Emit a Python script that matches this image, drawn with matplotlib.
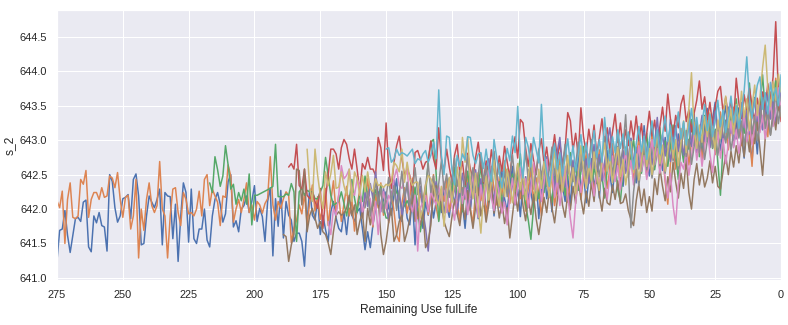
import numpy as np
import matplotlib
matplotlib.use("Agg")
import matplotlib.pyplot as plt
import seaborn as sns

# sensor s_2 readings per engine, ordered from first cycle down to failure (RUL 0)
unit_a = [
    642.38, 641.25, 641.69, 641.71, 641.98, 641.62, 641.37, 641.62, 641.86, 641.88,
    641.82, 642.10, 642.13, 641.45, 641.38, 641.90, 641.80, 641.95, 641.76, 641.74,
    641.39, 642.50, 642.40, 642.02, 641.81, 641.90, 642.15, 642.17, 642.21, 641.86,
    642.43, 642.51, 642.19, 641.48, 641.50, 641.90, 642.19, 642.10, 642.02, 642.14,
    642.29, 641.48, 642.24, 642.19, 642.18, 641.57, 642.07, 641.24, 641.90, 642.38,
    642.24, 641.52, 642.29, 641.57, 641.50, 641.71, 641.71, 642.00, 641.55, 641.45,
    641.90, 642.14, 642.24, 642.07, 641.81, 641.93, 642.40, 642.50, 641.74, 641.83,
    641.67, 642.00, 642.05, 642.19, 641.95, 642.11, 642.34, 641.82, 642.01, 641.89,
    641.53, 642.11, 642.31, 641.32, 642.15, 641.75, 642.27, 641.58, 642.11, 641.91,
    641.84, 641.53, 641.65, 641.65, 641.53, 641.17, 641.82, 642.30, 641.91, 641.84,
    642.15, 641.63, 641.91, 641.70, 641.53, 641.96, 642.11, 641.87, 641.72, 641.67,
    641.96, 641.63, 642.01, 641.91, 641.82, 641.96, 642.01, 641.72, 641.41, 641.67,
    641.44, 641.77, 642.01, 642.25, 642.01, 642.13, 642.25, 642.01, 641.91, 642.20,
    642.44, 641.87, 641.82, 642.20, 641.87, 641.77, 642.15, 641.48, 642.10, 642.01,
    641.72, 642.10, 641.91, 642.20, 641.87, 642.10, 642.20, 641.95, 642.32, 642.05,
    641.88, 642.27, 642.12, 641.93, 642.35, 642.08, 641.72, 642.18, 641.98, 642.40,
    642.11, 641.86, 642.22, 642.47, 641.95, 642.14, 642.38, 641.90, 642.26, 642.03,
    642.55, 642.15, 641.97, 642.34, 642.62, 642.08, 642.29, 641.89, 642.42, 642.18,
    642.57, 642.24, 642.02, 642.45, 641.86, 642.31, 642.67, 642.15, 642.40, 641.96,
    642.58, 642.22, 642.70, 642.34, 642.11, 642.48, 642.05, 642.63, 642.37, 642.81,
    642.26, 642.52, 642.09, 642.44, 642.73, 642.30, 642.58, 642.16, 642.69, 642.41,
    642.85, 642.50, 642.24, 642.62, 642.91, 642.47, 642.33, 642.76, 642.55, 643.02,
    642.64, 642.38, 642.86, 642.59, 643.21, 642.72, 642.48, 642.95, 642.67, 643.12,
    642.81, 642.56, 643.04, 642.74, 643.30, 642.88, 642.61, 643.09, 642.83, 643.25,
    642.70, 643.01, 642.92, 643.38, 642.86, 643.15, 642.78, 643.22, 643.46, 642.97,
    643.31, 643.55, 643.08, 642.85, 643.27, 643.50, 643.02, 643.36, 642.91, 643.19,
    643.47, 643.10, 642.74, 643.33, 643.06, 642.69, 643.24, 642.80, 643.38, 643.15,
    643.52, 643.21, 643.66, 643.40, 643.74, 643.48, 643.62,
]
unit_b = [
    642.12, 642.02, 642.26, 641.50, 642.14, 642.38, 641.88, 641.86, 641.90, 642.43,
    642.36, 642.56, 641.88, 642.14, 642.24, 642.24, 642.14, 642.31, 642.17, 642.19,
    642.48, 642.45, 642.31, 642.53, 642.14, 641.88, 642.17, 642.20, 641.71, 641.90,
    642.43, 641.29, 642.00, 641.69, 642.14, 642.38, 642.05, 641.95, 642.05, 642.69,
    642.00, 641.90, 641.29, 641.90, 642.29, 642.31, 641.95, 641.76, 642.24, 642.14,
    641.93, 641.95, 641.90, 642.00, 642.26, 641.90, 642.43, 642.50, 642.05, 642.29,
    642.19, 642.10, 641.76, 642.19, 642.17, 642.64, 642.48, 641.81, 642.00, 642.14,
    641.95, 642.14, 642.38, 641.95, 642.06, 641.84, 642.11, 642.06, 641.94, 642.08,
    642.15, 642.76, 642.06, 641.84, 642.11, 642.01, 642.15, 642.25, 642.20, 641.51,
    641.72, 641.84, 642.06, 641.93, 642.22, 641.78, 642.10, 642.35, 641.97, 642.18,
    641.85, 642.02, 642.30, 641.76, 642.12, 642.41, 641.95, 642.20, 641.82, 642.07,
    642.33, 641.90, 642.14, 641.68, 642.05, 642.27, 641.87, 642.16, 642.44, 641.99,
    641.74, 642.21, 642.02, 642.38, 641.91, 642.12, 641.80, 642.25, 641.97, 641.62,
    641.53, 642.08, 642.31, 641.94, 642.17, 642.45, 642.00, 641.86, 642.23, 642.09,
    642.36, 641.92, 642.15, 642.50, 642.03, 641.84, 642.27, 642.11, 642.42, 641.96,
    642.20, 642.58, 642.07, 641.83, 642.31, 642.14, 642.46, 642.01, 641.79, 642.25,
    642.53, 642.12, 642.35, 641.90, 642.21, 642.62, 642.28, 642.06, 642.47, 642.19,
    642.70, 642.33, 642.08, 642.41, 642.24, 642.66, 642.15, 642.39, 641.97, 642.30,
    642.57, 642.12, 642.45, 642.23, 641.90, 642.36, 642.60, 642.18, 642.49, 642.05,
    642.31, 642.74, 642.26, 642.52, 642.10, 642.42, 642.69, 642.28, 642.55, 642.14,
    642.47, 642.81, 642.38, 642.60, 642.22, 642.53, 642.86, 642.41, 642.67, 642.30,
    642.59, 642.95, 642.48, 642.72, 642.34, 642.64, 642.90, 642.51, 642.79, 642.42,
    642.70, 643.04, 642.58, 642.85, 642.47, 642.76, 643.08, 642.62, 642.93, 642.55,
    642.81, 642.40, 642.07, 642.66, 642.96, 642.58, 642.88, 643.17, 642.73, 643.02,
    642.64, 642.97, 643.26, 642.82, 643.10, 642.71, 643.04, 643.33, 642.90, 643.18,
    642.79, 643.12, 643.41, 642.95, 643.24, 642.86, 643.19, 643.48, 643.03, 643.30,
    642.92, 643.27, 643.55, 643.08, 642.62, 643.35, 643.14, 643.60, 643.22, 643.44,
    643.05, 643.70, 643.38, 643.90, 643.52, 643.47,
]
unit_c = [
    642.38, 642.24, 642.76, 642.57, 642.33, 642.48, 642.92, 642.64, 642.29, 642.36,
    642.07, 642.24, 642.12, 642.29, 642.07, 642.51, 641.77, 642.20, 642.20, 642.22,
    642.24, 642.26, 642.28, 642.30, 642.33, 642.94, 642.18, 642.18, 642.18, 642.22,
    642.20, 642.37, 642.25, 641.53, 642.25, 642.30, 642.20, 642.27, 642.25, 642.25,
    642.15, 642.15, 642.25, 642.34, 642.75, 642.49, 642.20, 642.06, 642.08, 642.11,
    642.25, 642.08, 641.90, 642.12, 642.43, 642.16, 641.95, 642.22, 642.11, 642.48,
    642.19, 641.97, 642.05, 642.28, 642.15, 642.33, 642.02, 641.87, 641.87, 642.10,
    642.36, 642.24, 642.18, 641.98, 642.05, 642.12, 642.03, 642.07, 642.32, 641.98,
    641.67, 641.93, 642.21, 642.70, 642.97, 643.01, 642.52, 641.82, 642.18, 642.35,
    642.09, 642.44, 642.26, 642.61, 642.13, 642.39, 641.96, 642.30, 642.55, 642.17,
    642.42, 642.03, 642.28, 642.64, 642.21, 642.47, 642.10, 642.35, 642.72, 642.19,
    642.40, 642.08, 642.33, 642.58, 642.26, 642.51, 642.12, 642.44, 642.80, 642.29,
    642.06, 641.84, 641.56, 642.02, 642.37, 642.15, 642.53, 642.24, 642.61, 642.32,
    642.09, 642.45, 642.73, 642.36, 642.58, 642.20, 642.49, 642.82, 642.40, 642.65,
    642.27, 642.54, 642.91, 642.44, 642.70, 642.31, 642.62, 642.37, 642.76, 642.49,
    642.16, 642.58, 642.85, 642.43, 642.69, 642.28, 642.11, 642.55, 642.81, 642.46,
    642.74, 643.02, 642.60, 642.87, 642.52, 642.78, 643.10, 642.66, 642.93, 642.57,
    642.85, 643.18, 642.71, 642.99, 642.62, 642.90, 643.22, 642.80, 642.43, 642.96,
    642.68, 643.14, 642.87, 643.30, 642.92, 643.20, 642.76, 643.05, 643.36, 642.98,
    643.25, 642.88, 643.16, 642.67, 642.20, 642.94, 643.29, 643.03, 643.41, 643.12,
    643.60, 643.24, 643.50, 643.10, 643.38, 643.83, 643.35, 643.62, 643.20, 643.49,
    643.95, 643.42, 643.70, 643.31, 643.58, 643.86, 643.45, 643.66,
]
unit_d = [
    642.61, 642.66, 642.58, 642.94, 642.34, 642.30, 642.58, 642.20, 642.15, 642.25,
    642.11, 642.01, 642.30, 641.72, 642.15, 642.49, 642.87, 642.87, 642.80, 642.58,
    642.89, 643.01, 642.94, 642.73, 642.58, 642.87, 642.58, 642.25, 642.66, 642.58,
    642.75, 642.58, 642.58, 642.49, 643.04, 642.89, 642.56, 643.25, 642.58, 642.30,
    642.68, 642.92, 643.06, 642.73, 642.49, 642.58, 642.49, 642.20, 642.82, 642.85,
    642.73, 642.58, 642.68, 642.70, 642.99, 642.73, 642.58, 643.18, 642.72, 642.55,
    642.87, 642.61, 642.40, 642.78, 642.94, 642.52, 642.69, 642.35, 642.81, 642.58,
    642.44, 642.75, 642.97, 642.63, 642.38, 642.70, 642.51, 642.86, 642.60, 642.42,
    642.77, 642.55, 642.91, 642.68, 642.47, 642.83, 643.05, 642.74, 643.30, 643.25,
    642.88, 642.62, 642.95, 642.71, 642.50, 642.84, 643.02, 642.66, 642.90, 642.57,
    642.79, 643.08, 642.73, 642.96, 642.64, 642.88, 643.40, 643.28, 642.85, 643.10,
    642.77, 643.47, 643.05, 642.82, 643.16, 642.90, 643.22, 642.79, 643.04, 643.31,
    642.93, 643.18, 642.86, 643.12, 643.38, 642.97, 643.25, 642.88, 643.15, 642.92,
    643.28, 643.01, 643.35, 642.99, 643.24, 642.83, 643.10, 643.42, 643.06, 643.29,
    642.94, 643.20, 643.48, 643.13, 643.67, 643.31, 643.05, 643.36, 643.18, 643.52,
    643.65, 643.27, 643.44, 643.12, 643.39, 643.58, 643.86, 643.45, 643.63, 643.30,
    643.55, 643.22, 643.48, 643.71, 643.78, 643.40, 643.62, 643.35, 643.58, 643.26,
    643.90, 643.54, 643.31, 643.66, 643.42, 643.75, 643.50, 643.28, 643.61, 643.38,
    643.70, 643.45, 643.82, 643.56, 643.92, 644.72, 643.68, 643.27,
]
unit_e = [
    642.10, 641.88, 642.25, 642.04, 642.37, 642.15, 642.54, 642.21, 641.96, 642.30,
    642.08, 641.83, 642.19, 642.42, 642.05, 642.27, 641.92, 642.14, 642.36, 641.99,
    642.23, 641.86, 642.10, 642.33, 641.97, 641.72, 641.39, 641.90, 642.18, 642.40,
    642.07, 642.29, 641.94, 642.21, 642.45, 642.11, 642.34, 641.98, 642.25, 642.52,
    642.16, 642.38, 642.03, 642.31, 642.57, 642.20, 642.44, 642.09, 642.62, 642.73,
    642.35, 642.12, 642.48, 642.24, 641.96, 642.30, 642.55, 642.19, 642.41, 642.06,
    642.33, 642.59, 642.22, 642.47, 642.13, 642.38, 642.65, 642.27, 642.51, 642.18,
    642.44, 642.76, 642.36, 642.60, 642.25, 642.83, 643.04, 642.58, 642.32, 642.67,
    642.43, 642.71, 642.29, 642.56, 642.88, 642.49, 642.73, 642.37, 642.62, 642.94,
    642.53, 642.79, 642.41, 642.68, 642.97, 643.18, 642.75, 642.46, 642.81, 642.57,
    642.86, 642.52, 642.74, 643.03, 642.65, 642.90, 642.58, 642.83, 643.11, 642.72,
    642.97, 642.64, 642.92, 643.33, 642.86, 643.08, 642.77, 643.02, 642.69, 642.95,
    643.21, 642.84, 643.10, 642.78, 643.04, 643.30, 642.91, 643.17, 642.82, 643.08,
    643.36, 642.98, 643.23, 642.89, 643.14, 643.42, 643.05, 643.29, 642.96, 643.21,
    643.48, 643.10, 643.35, 643.02, 643.27, 643.55, 643.18, 643.43, 643.09, 643.34,
    643.61, 643.24, 643.50, 643.16, 643.40, 643.68, 643.31, 643.57, 643.25, 643.49,
    643.72,
]
unit_f = [
    641.63, 641.60, 641.24, 641.48, 641.63, 642.58, 642.56, 642.06, 642.58, 641.67,
    641.91, 642.01, 641.87, 641.72, 641.82, 641.67, 641.63, 641.51, 641.34, 641.67,
    641.91, 641.96, 641.91, 641.94, 642.01, 642.20, 641.91, 642.06, 641.63, 641.82,
    641.96, 641.53, 642.01, 641.77, 642.06, 642.44, 642.15, 641.63, 641.34, 641.53,
    641.82, 642.01, 641.53, 641.63, 641.82, 641.91, 641.53, 641.67, 641.87, 642.20,
    641.82, 641.96, 641.77, 641.96, 641.44, 641.53, 641.77, 642.30, 642.34, 642.25,
    642.05, 641.82, 641.70, 641.60, 641.88, 642.14, 641.93, 641.76, 642.09, 641.85,
    642.27, 641.98, 641.72, 642.03, 642.31, 641.90, 642.12, 641.81, 642.06, 642.36,
    641.94, 642.18, 641.87, 642.10, 641.79, 642.02, 641.58, 641.91, 642.24, 641.97,
    642.38, 642.05, 641.83, 642.15, 641.92, 642.21, 641.86, 641.63, 641.90, 642.17,
    641.95, 642.28, 642.02, 641.80, 642.12, 642.40, 642.06, 641.88, 642.23, 641.99,
    642.33, 642.08, 642.47, 642.15, 641.93, 642.26, 642.04, 642.38, 642.11, 642.55,
    642.20, 641.97, 642.30, 642.09, 642.06, 642.35, 642.14, 642.41, 642.08, 642.10,
    642.22, 641.98, 641.85, 641.76, 642.12, 642.36, 642.05, 642.29, 641.95, 642.18,
    641.97, 642.44, 642.21, 642.60, 642.33, 642.12, 642.47, 642.25, 642.68, 642.39,
    642.16, 642.52, 642.30, 642.71, 642.24, 642.00, 642.43, 642.66, 642.35, 642.58,
    642.32, 642.45, 642.70, 642.38, 642.62, 642.33, 642.29, 642.55, 642.78, 642.50,
    642.84, 642.61, 642.92, 642.67, 643.05, 642.76, 643.12, 642.83, 643.18, 642.95,
    643.26, 642.88, 642.49, 643.02, 643.30, 643.08, 643.41, 643.15, 643.50, 643.34,
]
unit_g = [
    641.82, 641.63, 642.01, 641.91, 642.20, 642.63, 642.44, 642.49, 642.58, 642.25,
    642.20, 642.44, 642.34, 641.96, 642.06, 642.20, 642.15, 641.77, 642.11, 641.63,
    642.06, 642.25, 642.01, 642.20, 642.11, 642.44, 642.58, 642.34, 642.30, 642.44,
    642.58, 642.11, 641.96, 642.20, 641.39, 642.01, 642.11, 642.20, 641.96, 642.25,
    642.15, 642.06, 642.34, 642.12, 642.40, 641.95, 642.27, 642.05, 641.84, 642.19,
    642.46, 642.08, 642.31, 641.92, 642.23, 642.50, 642.14, 641.88, 642.35, 642.06,
    642.29, 642.57, 642.16, 641.98, 642.41, 642.22, 641.94, 642.10, 641.77, 642.18,
    642.45, 642.07, 642.33, 642.60, 642.21, 642.44, 642.02, 642.30, 642.68, 642.26,
    642.49, 642.11, 642.38, 642.72, 642.29, 642.55, 642.17, 642.43, 642.05, 642.32,
    642.62, 642.20, 641.86, 641.58, 642.10, 642.47, 642.24, 642.58, 642.31, 642.80,
    642.45, 642.19, 642.53, 642.36, 642.70, 642.42, 642.14, 642.51, 642.77, 642.40,
    642.63, 642.28, 642.56, 642.84, 642.47, 642.71, 642.35, 642.60, 642.92, 642.55,
    642.78, 642.43, 642.69, 643.01, 642.64, 642.88, 642.52, 642.79, 642.44, 642.16,
    642.52, 642.05, 641.78, 642.35, 642.68, 642.58, 642.84, 642.49, 642.76, 643.08,
    642.71, 642.98, 642.62, 642.90, 643.19, 642.80, 642.53, 642.87, 643.12, 642.74,
    643.02, 642.66, 642.95, 643.28, 642.89, 643.15, 642.81, 643.07, 643.39, 642.98,
    643.24, 642.93, 643.20, 643.50, 643.11, 643.36, 643.02, 643.29, 643.58, 643.20,
    643.45, 643.76, 643.42,
]
unit_h = [
    642.02, 642.25, 641.90, 642.13, 642.41, 642.07, 642.30, 641.95, 642.18, 642.46,
    642.10, 642.34, 641.98, 642.22, 642.55, 642.16, 642.39, 642.04, 642.27, 642.60,
    642.21, 642.45, 642.09, 642.32, 642.66, 642.24, 642.48, 642.13, 642.37, 642.70,
    642.28, 642.51, 642.17, 642.42, 642.74, 642.33, 642.56, 642.20, 642.45, 642.78,
    642.36, 642.60, 642.24, 642.49, 642.81, 642.40, 642.63, 642.27, 642.52, 642.84,
    642.43, 642.66, 642.30, 642.55, 642.18, 642.47, 642.79, 642.38, 642.61, 642.26,
    642.50, 642.83, 642.42, 642.65, 642.29, 642.54, 642.87, 642.46, 642.69, 642.33,
    642.58, 642.90, 642.49, 642.72, 642.36, 642.61, 642.94, 642.52, 642.76, 642.40,
    642.64, 642.97, 642.55, 642.80, 642.44, 642.68, 643.01, 642.59, 642.83, 642.47,
    642.71, 643.05, 642.62, 642.87, 642.51, 642.75, 643.10, 642.66, 642.90, 643.37,
    642.60, 641.73, 642.25, 642.58, 642.34, 642.66, 642.95, 642.57, 642.81, 642.45,
    642.72, 643.06, 642.63, 642.88, 642.52, 642.79, 643.12, 642.70, 642.95, 642.58,
    642.84, 643.18, 642.76, 643.01, 642.65, 642.91, 643.25, 642.82, 643.07, 642.72,
    642.99, 643.32, 642.89, 643.14, 642.78, 643.05, 643.40, 642.96, 643.21, 642.85,
    643.12, 643.47, 643.03, 643.28, 642.92, 643.19, 643.55, 643.10, 643.35, 642.99,
    643.26, 643.62, 643.17, 643.42, 643.07, 643.33, 643.70, 643.24, 643.50,
]
unit_i = [
    642.87, 642.30, 642.11, 642.87, 642.49, 642.20, 642.01, 642.54, 642.34, 642.51,
    642.78, 642.30, 642.32, 642.54, 642.34, 642.20, 642.58, 642.11, 642.54, 642.44,
    642.20, 642.49, 642.25, 642.54, 642.30, 642.25, 642.44, 642.34, 642.36, 642.31,
    642.36, 642.34, 642.39, 642.68, 642.63, 642.54, 642.87, 642.39, 642.68, 642.44,
    642.34, 642.39, 642.39, 641.87, 642.01, 642.34, 642.49, 642.44, 642.34, 642.15,
    642.06, 642.33, 641.75, 642.18, 642.46, 642.09, 642.37, 642.61, 642.24, 643.04,
    642.68, 643.05, 642.40, 642.15, 642.52, 642.01, 641.65, 642.20, 642.48, 642.13,
    642.39, 642.71, 642.26, 642.04, 642.45, 642.18, 642.57, 642.33, 642.09, 642.42,
    642.66, 642.28, 642.55, 642.14, 642.47, 642.80, 642.36, 642.12, 642.58, 642.30,
    642.69, 642.43, 642.17, 642.54, 642.86, 642.39, 642.63, 642.25, 642.51, 642.78,
    642.34, 642.60, 642.22, 642.49, 642.92, 642.57, 642.30, 642.66, 642.41, 642.83,
    642.50, 642.27, 642.74, 642.96, 642.55, 642.79, 642.38, 642.64, 642.90, 642.47,
    642.72, 642.35, 642.61, 642.98, 642.53, 642.80, 642.42, 642.69, 643.05, 642.62,
    642.88, 642.50, 642.77, 643.12, 642.66, 642.93, 642.55, 642.84, 643.20, 642.74,
    643.01, 642.63, 642.95, 643.28, 642.82, 643.46, 643.98, 643.15, 642.88, 643.22,
    642.97, 643.34, 643.05, 643.40, 643.11, 642.86, 643.29, 643.02, 643.37, 643.64,
    643.18, 643.45, 643.09, 643.52, 643.26, 643.71, 643.33, 643.60, 643.14, 643.48,
    643.80, 643.36, 643.62, 644.05, 644.38, 643.74, 643.49, 643.85, 643.58, 643.96,
    643.70,
]
unit_j = [
    642.87, 642.89, 642.68, 642.73, 642.87, 642.78, 642.82, 642.80, 642.77, 642.82,
    642.87, 642.66, 642.73, 642.71, 642.80, 642.85, 642.68, 642.78, 642.97, 642.73,
    643.73, 642.78, 642.50, 643.06, 643.04, 642.58, 642.35, 642.78, 642.62, 642.80,
    642.71, 643.05, 643.04, 642.78, 642.66, 642.80, 642.82, 642.59, 642.87, 642.58,
    642.40, 643.01, 642.75, 642.52, 642.31, 642.64, 642.88, 642.70, 643.06, 642.82,
    643.49, 642.73, 642.45, 643.04, 642.90, 642.61, 643.04, 642.86, 642.67, 643.52,
    642.80, 642.54, 642.33, 642.69, 642.95, 642.58, 642.82, 642.48, 642.76, 643.02,
    642.64, 642.92, 642.55, 642.80, 643.08, 642.71, 642.96, 642.60, 642.87, 643.14,
    642.75, 643.01, 642.68, 643.33, 642.93, 642.70, 643.05, 642.82, 643.15, 642.88,
    643.09, 642.79, 643.12, 642.86, 642.58, 642.94, 643.20, 642.83, 643.06, 642.72,
    643.00, 643.28, 642.91, 643.15, 642.80, 643.07, 643.35, 642.98, 643.22, 642.87,
    643.13, 643.41, 643.02, 643.27, 642.93, 643.18, 643.46, 643.08, 643.33, 642.99,
    643.24, 643.52, 643.14, 643.38, 643.05, 643.29, 643.58, 643.20, 643.44, 643.11,
    643.36, 643.64, 643.26, 643.50, 643.17, 643.42, 643.71, 644.21, 643.60, 643.32,
    643.55, 643.80, 643.92, 643.45, 643.69, 643.38, 643.84, 643.57, 643.76, 643.50,
    643.95,
]

units = [unit_a, unit_b, unit_c, unit_d, unit_e, unit_f, unit_g, unit_h, unit_i, unit_j]
rul_ticks = list(range(0, 276, 25))

sns.set()
plt.rcParams["font.family"] = ["Liberation Sans", "DejaVu Sans"]

fig = plt.figure(figsize=(788 / 72, 325 / 72), dpi=72)
ax = fig.add_axes([57 / 788, 45 / 325, 724 / 788, 270 / 325])

palette = sns.color_palette("deep", len(units))
for vals, color in zip(units, palette):
    rul = np.arange(len(vals) - 1, -1, -1)
    ax.plot(rul, vals, color=color, linewidth=1.5)

ax.set_xlim(275, 0)
ax.set_ylim(640.97, 644.89)
ax.set_xticks(rul_ticks)
ax.set_yticks(np.arange(641.0, 644.51, 0.5))
ax.yaxis.set_major_formatter(matplotlib.ticker.FormatStrFormatter("%.1f"))
ax.set_xlabel("Remaining Use fulLife")
ax.set_ylabel("s_2")

fig.savefig("out.png", dpi=72)
